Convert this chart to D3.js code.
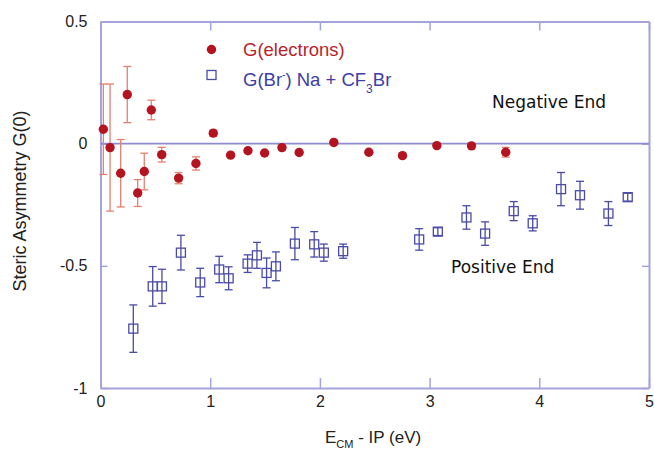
<!DOCTYPE html>
<html>
<head>
<meta charset="utf-8">
<script src="https://cdn.jsdelivr.net/npm/d3@7"></script>
<style>
	body { margin: 0; background: #fff; }
	svg text { font-family: "Liberation Sans", Arial, Helvetica, sans-serif; }
</style>
</head>
<body>
<div id="chart"></div>
<script>
// electrons (red)
var elecE   = [0.026, 0.087, 0.184, 0.244, 0.339, 0.399, 0.463, 0.558, 0.712, 0.870, 1.028,
               1.186, 1.344, 1.496, 1.654, 1.811, 2.127, 2.446, 2.753, 3.066, 3.382, 3.694];
var elecG   = [0.059, -0.016, -0.121, 0.201, -0.202, -0.114, 0.138, -0.045, -0.141, -0.081, 0.043,
               -0.047, -0.029, -0.038, -0.016, -0.036, 0.005, -0.035, -0.049, -0.008, -0.009, -0.035];
var elecErr = [0.185, 0.26, 0.138, 0.115, 0.055, 0.075, 0.04, 0.03, 0.023, 0.027, 0.012,
               0, 0, 0, 0, 0, 0, 0, 0, 0, 0, 0.02];

// Br- from Na + CF3Br (blue)
var brE   = [0.299, 0.476, 0.560, 0.733, 0.909, 1.082, 1.168, 1.341, 1.426, 1.514, 1.599, 1.772, 1.948,
             2.036, 2.212, 2.905, 3.075, 3.336, 3.506, 3.767, 3.940, 4.198, 4.371, 4.630, 4.806];
var brG   = [-0.757, -0.584, -0.584, -0.446, -0.568, -0.515, -0.551, -0.491, -0.457, -0.529, -0.502, -0.409, -0.412,
             -0.446, -0.440, -0.392, -0.360, -0.302, -0.368, -0.276, -0.326, -0.186, -0.211, -0.286, -0.219];
var brErr = [0.097, 0.081, 0.070, 0.071, 0.058, 0.054, 0.047, 0.036, 0.053, 0.061, 0.059, 0.066, 0.052,
             0.035, 0.029, 0.044, 0.016, 0.048, 0.048, 0.039, 0.031, 0.068, 0.057, 0.049, 0.016];

var xTicks = [0, 1, 2, 3, 4, 5];
var yTicks = [0.5, 0, -0.5, -1];

var width = 654, height = 451;
var margin = {top: 21.5, right: 5, bottom: 63, left: 100.5};
var w = width - margin.left - margin.right,
	h = height - margin.top - margin.bottom;

var axisColor = '#a4a4dc',
	red = '#b3141f', redErr = '#e7806f',
	blue = '#4a4aa8';

var svg = d3.select('#chart').append('svg')
	.attr('width', width)
	.attr('height', height);

var vis = svg.append('g')
	.attr('transform', 'translate(' + margin.left + ',' + margin.top + ')');

var x = d3.scaleLinear().domain([0, 5]).range([0, w]);
var y = d3.scaleLinear().domain([-1, 0.5]).range([h, 0]);

var fmt = function(d) { return d === 0 ? '0' : String(d); };

// axes, ticks pointing inward on all four sides
var axes = [
	{a: d3.axisBottom(x).tickValues(xTicks).tickFormat(fmt).tickSizeInner(-10).tickPadding(8), t: [0, h]},
	{a: d3.axisTop(x).tickValues(xTicks).tickFormat('').tickSizeInner(-9), t: [0, 0]},
	{a: d3.axisLeft(y).tickValues(yTicks).tickFormat(fmt).tickSizeInner(-7).tickPadding(13), t: [0, 0]},
	{a: d3.axisRight(y).tickValues(yTicks).tickFormat('').tickSizeInner(-7), t: [w, 0]}
];
axes.forEach(function(ax) {
	var g = vis.append('g')
		.attr('transform', 'translate(' + ax.t[0] + ',' + ax.t[1] + ')')
		.call(ax.a.tickSizeOuter(0));
	g.select('.domain').attr('stroke', axisColor).attr('stroke-width', 2);
	g.selectAll('.tick line').attr('stroke', axisColor).attr('stroke-width', 1.5);
	g.selectAll('.tick text').attr('fill', '#222').style('font-size', '16px');
});

// zero line
vis.append('line')
	.attr('x1', 0).attr('x2', w)
	.attr('y1', y(0)).attr('y2', y(0))
	.attr('stroke', '#8c8cd2').attr('stroke-width', 1.8);

function errorBars(xs, ys, es, color) {
	var g = vis.append('g').attr('stroke', color).attr('stroke-width', 1.3).attr('fill', 'none');
	xs.forEach(function(xv, i) {
		if (!es[i]) return;
		var cx = x(xv), y1 = y(ys[i] + es[i]), y2 = y(ys[i] - es[i]);
		g.append('line').attr('x1', cx).attr('x2', cx).attr('y1', y1).attr('y2', y2);
		g.append('line').attr('x1', cx - 4).attr('x2', cx + 4).attr('y1', y1).attr('y2', y1);
		g.append('line').attr('x1', cx - 4).attr('x2', cx + 4).attr('y1', y2).attr('y2', y2);
	});
}

errorBars(brE, brG, brErr, blue);
vis.append('g').selectAll('rect')
	.data(brE)
	.enter().append('rect')
	.attr('x', function(d) { return x(d) - 4.5; })
	.attr('y', function(d, i) { return y(brG[i]) - 4.5; })
	.attr('width', 9).attr('height', 9)
	.attr('fill', 'none').attr('stroke', blue).attr('stroke-width', 1.3);

errorBars(elecE, elecG, elecErr, redErr);
vis.append('g').selectAll('circle')
	.data(elecE)
	.enter().append('circle')
	.attr('cx', function(d) { return x(d); })
	.attr('cy', function(d, i) { return y(elecG[i]); })
	.attr('r', 4.7)
	.attr('fill', red);

// legend
svg.append('circle').attr('cx', 211.5).attr('cy', 49.5).attr('r', 4.7).attr('fill', red);
svg.append('text').attr('x', 243).attr('y', 56)
	.attr('fill', '#b5262b').style('font-size', '18.5px')
	.text('G(electrons)');
svg.append('rect').attr('x', 207).attr('y', 70.5).attr('width', 9).attr('height', 9)
	.attr('fill', 'none').attr('stroke', blue).attr('stroke-width', 1.3);
var lg = svg.append('text').attr('x', 243).attr('y', 86)
	.attr('fill', '#3e3ea6').style('font-size', '18.5px');
lg.append('tspan').text('G(Br');
lg.append('tspan').attr('dy', -8).style('font-size', '10px').text('-');
lg.append('tspan').attr('dy', 8).text(') Na + CF');
lg.append('tspan').attr('dy', 7).style('font-size', '12px').text('3');
lg.append('tspan').attr('dy', -7).text('Br');

// annotations
svg.append('text').attr('x', 492).attr('y', 108)
	.style('font-family', '"DejaVu Sans", sans-serif').style('font-size', '17px').attr('fill', '#111')
	.text('Negative End');
svg.append('text').attr('x', 451).attr('y', 273)
	.style('font-family', '"DejaVu Sans", sans-serif').style('font-size', '17px').attr('fill', '#111')
	.text('Positive End');

// axis titles
var xt = svg.append('text').attr('x', 325).attr('y', 443)
	.attr('fill', '#222').style('font-size', '17px');
xt.append('tspan').text('E');
xt.append('tspan').attr('dy', 5).style('font-size', '11px').text('CM');
xt.append('tspan').attr('dy', -5).text(' - IP (eV)');

svg.append('text')
	.attr('transform', 'translate(26,201) rotate(-90)')
	.attr('text-anchor', 'middle')
	.attr('fill', '#222').style('font-size', '18px')
	.text('Steric Asymmetry G(0)');
</script>
</body>
</html>
